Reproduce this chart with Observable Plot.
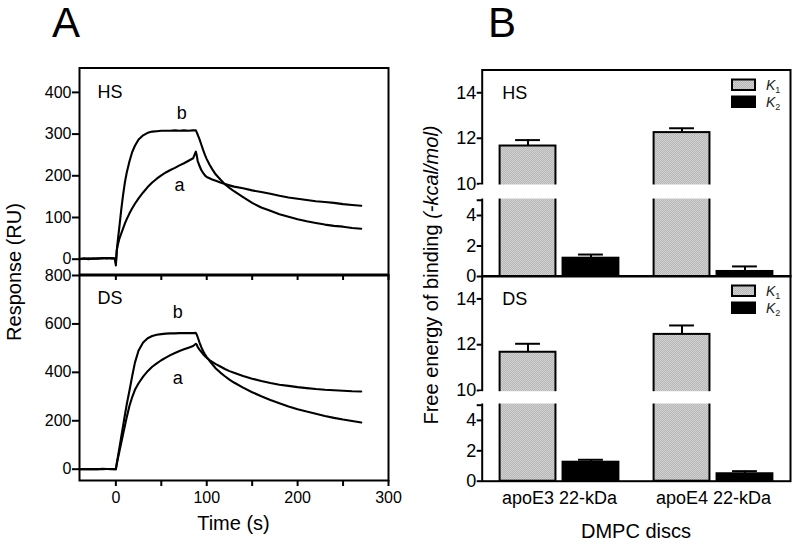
<!DOCTYPE html>
<html>
<head>
<meta charset="utf-8">
<script src="https://cdn.jsdelivr.net/npm/d3@7"></script>
<script src="https://cdn.jsdelivr.net/npm/@observablehq/plot@0.6"></script>
<style>
html, body { margin: 0; padding: 0; background: #fff; }
#fig { position: relative; width: 800px; height: 547px; overflow: hidden; font-family: "Liberation Sans", Arial, sans-serif; }
#fig > svg { position: absolute; left: 0; }
#fig svg g[aria-label^="x-axis"] path, #fig svg g[aria-label^="y-axis"] path,
#fig svg g[aria-label^="x-axis"] line, #fig svg g[aria-label^="y-axis"] line { stroke-width: 2px; }
</style>
</head>
<body>
<div id="fig"></div>
<script>
// ---------------- Data ----------------
// Panel A: SPR sensorgrams, time (s)
const time = [-40,-35,-30,-25,-20,-15,-10,-5,-1,0,1,2,4,6,8,10,12,15,18,21,25,30,35,40,45,50,55,60,65,70,75,80,85,88,89,90,92,94,96,98,100,103,106,110,115,120,125,130,140,150,160,170,180,190,200,210,220,230,240,250,260,270];
// HS response (RU)
const hsA = [0,1,2,1,2,2,3,2,1, -10,21,33,50,62,74,86,96,110,122,133,146,160, 173,184,193,201,208,214,219,225,230,236,242,258, 249,236,224,214,207,201,197,194,191,188,184,180,177,174, 170,165,161,157,152,148,145,142,139,137,135,132,130,128];
const hsB = [1,2,0,2,1,3,2,3,2, -15,20,42,80,120,155,185,208,235,257,272,287,297, 303,306,307,308,308,308,309,308,309,308,309,309, 304,299,288,275,262,250,240,227,216,203,191,180,171,163, 149,135,124,116,108,102,96,91,87,83,80,78,75,73];
// DS response (RU)
const dsA = [0,0,1,0,1,0,1,1,0, 0,20,40,75,110,145,180,215,262,298,328,355,382, 405,423,437,450,461,471,480,488,495,502,509,518, 514,505,494,485,475,467,460,451,443,434,424,414,405,398, 385,374,364,356,349,344,339,335,331,328,326,324,322,321];
const dsB = [0,1,0,1,0,2,1,0,1, 0,25,45,90,135,180,225,268,325,385,440,490,523, 541,550,555,558,560,561,561,562,562,562,562,563, 556,546,524,504,488,475,463,448,434,416,399,384,370,358, 337,318,301,286,272,259,248,238,229,220,212,205,199,193];
const hsTicks = [0,100,200,300,400];
const dsTicks = [0,200,400,600,800];
const timeTicks = [0,50,100,150,200,250,300];

// Panel B: free energy of binding (-kcal/mol)
const groups = ["apoE3 22-kDa", "apoE4 22-kDa"];
const constants = ["K1", "K2"];
const hsK1 = [11.66, 12.25], hsK1Err = [0.26, 0.19];
const hsK2 = [1.20, 0.33],  hsK2Err = [0.24, 0.33];
const dsK1 = [11.67, 12.45], dsK1Err = [0.37, 0.39];
const dsK2 = [1.25, 0.49],  dsK2Err = [0.16, 0.17];
const energyTicks = [0,2,4,5,10,12,14];

// ---------------- Helpers ----------------
const FONT = "Liberation Sans, Arial, Helvetica, sans-serif";
const fig = d3.select("#fig");

function addHatch(svg, id) {
  const defs = d3.select(svg).insert("defs", ":first-child");
  const p = defs.append("pattern").attr("id", id).attr("width", 2).attr("height", 2)
    .attr("patternUnits", "userSpaceOnUse");
  p.append("rect").attr("width", 2).attr("height", 2).attr("fill", "#d0d0d0");
  p.append("path").attr("d", "M0,2L2,0M-1,1L1,-1M1,3L3,1").attr("stroke", "#a4a4a4").attr("stroke-width", 0.55);
}

function place(svg, top) {
  svg.style.position = "absolute";
  svg.style.top = top + "px";
  svg.style.left = "0px";
  fig.node().appendChild(svg);
}

// ---------------- Panel A ----------------
function sensorgram(o) {
  const data = [
    ...time.map((t, i) => ({t, v: o.a[i], id: "a"})),
    ...time.map((t, i) => ({t, v: o.b[i], id: "b"}))
  ];
  const svg = Plot.plot({
    width: 400, height: o.height,
    marginLeft: 79, marginRight: 12, marginTop: o.mT, marginBottom: o.mB,
    style: {background: "transparent", overflow: "visible", fontFamily: FONT, fontSize: "16px", color: "black"},
    x: {domain: [-40, 300], ticks: timeTicks, tickSize: 6, tickPadding: 5, label: null,
        tickFormat: o.xLabels ? (d => d % 100 === 0 ? String(d) : "") : (() => "")},
    y: {domain: o.yDomain, ticks: o.yTicks, tickSize: 7, tickPadding: 1, label: null},
    marks: [
      Plot.line(data, {x: "t", y: "v", z: "id", stroke: "black", strokeWidth: 2.1}),
      Plot.frame({stroke: "black", strokeWidth: 2}),
      Plot.text([o.label], {frameAnchor: "top-left", dx: 18, dy: o.labelDy, lineAnchor: "middle", fontSize: 18}),
      Plot.text(o.tags, {x: "t", y: "v", text: "s", fontSize: 18, lineAnchor: "middle"})
    ]
  });
  place(svg, o.top);
}

sensorgram({a: hsA, b: hsB, top: 60, height: 220, mT: 7.5, mB: 6,
  yDomain: [-36.7, 458.5], yTicks: hsTicks, xLabels: false, label: "HS", labelDy: 24,
  tags: [{t: 72.5, v: 349, s: "b"}, {t: 70, v: 177, s: "a"}]});
sensorgram({a: dsA, b: dsB, top: 270, height: 277, mT: 5, mB: 67,
  yDomain: [-46.7, 800], yTicks: dsTicks, xLabels: true, label: "DS", labelDy: 22.5,
  tags: [{t: 68, v: 647, s: "b"}, {t: 68, v: 375, s: "a"}]});

// ---------------- Panel B ----------------
const FW = 790 - 481.7;          // frame width
const BAND = FW / groups.length; // band per group
const BAR = 56, OUTER = 17.6, CAP = 25;

function barPanel(o) {
  const rows = groups.flatMap((g, i) => [
    {g, k: constants[0], v: o.k1[i], e: o.k1e[i]},
    {g, k: constants[1], v: o.k2[i], e: o.k2e[i]}
  ]);
  const r1 = rows.filter(d => d.k === constants[0]);
  const r2 = rows.filter(d => d.k === constants[1]);
  const c1 = OUTER + BAR / 2, c2 = BAND - OUTER - BAR / 2;
  const svg = Plot.plot({
    width: 800, height: o.height,
    marginLeft: 481.7, marginRight: 10, marginTop: o.mT, marginBottom: o.mB,
    style: {background: "transparent", overflow: "visible", fontFamily: FONT, fontSize: "18px", color: "black"},
    x: {type: "band", domain: groups, padding: 0, tickSize: 0, tickPadding: 10, label: null, axis: o.showX ? "bottom" : null},
    y: {type: "linear", domain: [0, 5, 10, 15], range: o.range, ticks: energyTicks, tickSize: 5, tickPadding: 1, label: null,
        tickFormat: d => (d === 5 ? "" : String(d))},
    marks: [
      Plot.frame({stroke: "black", strokeWidth: 2}),
      Plot.barY(r1, {x: "g", y1: 0, y2: "v", fill: `url(#${o.hatch})`, stroke: "black", strokeWidth: 2,
        insetLeft: OUTER, insetRight: BAND - OUTER - BAR}),
      Plot.barY(r2, {x: "g", y1: 0, y2: "v", fill: "black", stroke: "black", strokeWidth: 2,
        insetLeft: BAND - OUTER - BAR, insetRight: OUTER}),
      Plot.ruleX(r1, {x: "g", y1: "v", y2: d => d.v + d.e, dx: c1 - BAND / 2, strokeWidth: 2}),
      Plot.ruleX(r2, {x: "g", y1: "v", y2: d => d.v + d.e, dx: c2 - BAND / 2, strokeWidth: 2}),
      Plot.tickY(r1, {x: "g", y: d => d.v + d.e, strokeWidth: 2,
        insetLeft: c1 - CAP / 2, insetRight: BAND - c1 - CAP / 2}),
      Plot.tickY(r2, {x: "g", y: d => d.v + d.e, strokeWidth: 2,
        insetLeft: c2 - CAP / 2, insetRight: BAND - c2 - CAP / 2}),
      // axis break (white gap between 5 and 10)
      Plot.barY([0], {y1: 5, y2: 10, fill: "white", insetLeft: -2.5, insetRight: 2, insetTop: 1.2, insetBottom: 1.2}),
      Plot.text([o.label], {frameAnchor: "top-left", dx: 20, dy: 23, lineAnchor: "middle", fontSize: 18})
    ]
  });
  addHatch(svg, o.hatch);
  place(svg, o.top);
}

barPanel({k1: hsK1, k1e: hsK1Err, k2: hsK2, k2e: hsK2Err, top: 60, height: 220, mT: 9.5, mB: 4,
  range: [216, 139.75, 123.3, 9.5], showX: false, label: "HS", hatch: "hatchHS"});
barPanel({k1: dsK1, k1e: dsK1Err, k2: dsK2, k2e: dsK2Err, top: 270, height: 277, mT: 5.5, mB: 66.3,
  range: [210.7, 134.7, 120, 5.5], showX: true, label: "DS", hatch: "hatchDS"});

// ---------------- Overlay text / legend ----------------
const ov = fig.append("svg").attr("width", 800).attr("height", 547)
  .style("position", "absolute").style("top", "0px").style("left", "0px")
  .attr("font-family", FONT);
addHatch(ov.node(), "hatchLeg");

ov.append("text").attr("x", 66).attr("y", 37).attr("text-anchor", "middle").attr("font-size", 42).text("A");
ov.append("text").attr("x", 502).attr("y", 37).attr("text-anchor", "middle").attr("font-size", 42).text("B");

ov.append("text").attr("transform", "translate(21,272) rotate(-90)").attr("text-anchor", "middle")
  .attr("font-size", 20).text("Response (RU)");
ov.append("text").attr("x", 233.5).attr("y", 530).attr("text-anchor", "middle").attr("font-size", 20).text("Time (s)");

const yl = ov.append("text").attr("transform", "translate(438,275) rotate(-90)").attr("text-anchor", "middle")
  .attr("font-size", 20);
yl.append("tspan").text("Free energy of binding ");
yl.append("tspan").attr("font-style", "italic").text("(-kcal/mol)");
ov.append("text").attr("x", 636).attr("y", 538).attr("text-anchor", "middle").attr("font-size", 20).text("DMPC discs");

[69.5, 275.5].forEach(top => {
  constants.forEach((k, i) => {
    const y0 = top + 10 + i * 17;
    ov.append("rect").attr("x", 732).attr("y", y0).attr("width", 23).attr("height", 10.5)
      .attr("fill", i === 0 ? "url(#hatchLeg)" : "black").attr("stroke", "black").attr("stroke-width", 2);
    const t = ov.append("text").attr("x", 766).attr("y", y0 + 10.5).attr("font-size", 14).attr("fill", "#222");
    t.append("tspan").attr("font-style", "italic").text(k[0]);
    t.append("tspan").attr("font-size", 9).attr("dy", 3).text(k.slice(1));
  });
});
</script>
</body>
</html>
